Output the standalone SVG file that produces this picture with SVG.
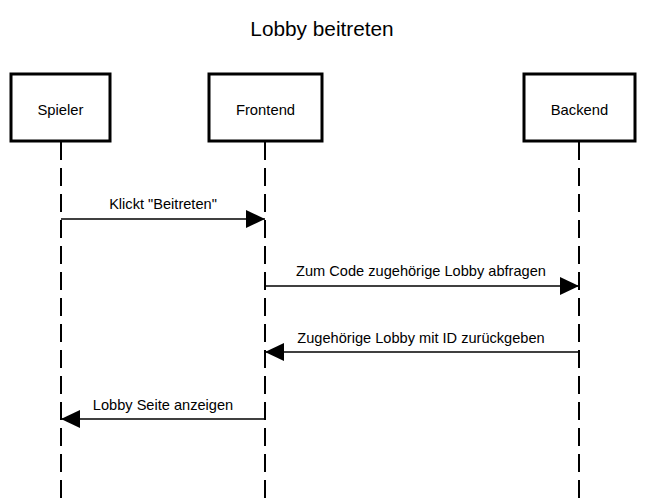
<svg xmlns="http://www.w3.org/2000/svg" width="645" height="502" viewBox="0 0 645 502">
<defs>
<style>
text{font-family:"Liberation Sans",Arial,sans-serif;fill:#000}
.box{fill:#fff;stroke:#000;stroke-width:3}
.life{stroke:#000;stroke-width:2;stroke-dasharray:18 8;fill:none}
.msg{stroke:#000;stroke-width:1.5;fill:none}
.lbl{font-size:14.6px;text-anchor:middle}
.nl{font-size:14.8px;text-anchor:middle}
</style>
<marker id="ah" markerWidth="19" markerHeight="18" refX="19" refY="9" orient="auto" markerUnits="userSpaceOnUse">
<path d="M0,0 L19,9 L0,18 Z" fill="#000"/>
</marker>
</defs>
<rect width="645" height="502" fill="#fff"/>
<text x="322" y="36" font-size="20.8" text-anchor="middle">Lobby beitreten</text>
<g id="lifelines">
<line class="life" x1="61" y1="142" x2="61" y2="502"/>
<line class="life" x1="265" y1="142" x2="265" y2="502"/>
<line class="life" x1="579" y1="142" x2="579" y2="502"/>
</g>
<g id="spieler"><rect class="box" x="11" y="74" width="99" height="67"/><text class="nl" x="60.5" y="115">Spieler</text></g>
<g id="frontend"><rect class="box" x="209" y="74" width="113" height="67"/><text class="nl" x="265.5" y="115">Frontend</text></g>
<g id="backend"><rect class="box" x="524" y="74" width="111" height="67"/><text class="nl" x="579.5" y="115">Backend</text></g>
<g id="connectors">
<line class="msg" x1="61" y1="219" x2="265" y2="219" marker-end="url(#ah)"/>
<text class="lbl" x="163" y="209">Klickt "Beitreten"</text>
<line class="msg" x1="265" y1="286" x2="579" y2="286" marker-end="url(#ah)"/>
<text class="lbl" x="421" y="276">Zum Code zugehörige Lobby abfragen</text>
<line class="msg" x1="579" y1="352" x2="265" y2="352" marker-end="url(#ah)"/>
<text class="lbl" x="421" y="343">Zugehörige Lobby mit ID zurückgeben</text>
<line class="msg" x1="265" y1="419" x2="61" y2="419" marker-end="url(#ah)"/>
<text class="lbl" x="163" y="410">Lobby Seite anzeigen</text>
</g>
</svg>
